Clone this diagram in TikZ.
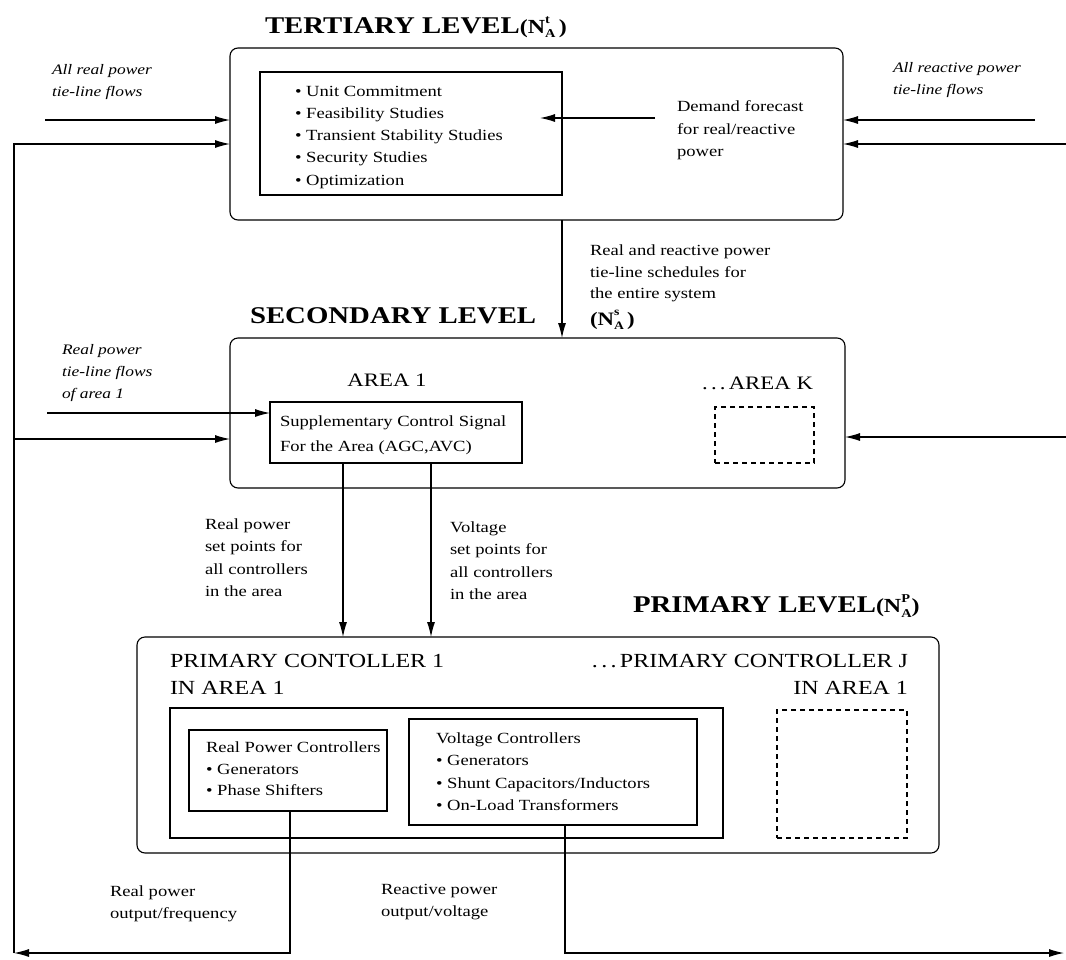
\documentclass[tikz,border=0pt]{standalone}
\usepackage{fontspec}
\setmainfont[FakeStretch=1.2]{Liberation Serif}
\usetikzlibrary{arrows.meta}
% N with stacked sub/superscript for level labels
\newcommand\Nlev[1]{N\rlap{\raisebox{0.5em}{\fontsize{0.6em}{0.6em}\selectfont #1}}\raisebox{-0.22em}{\fontsize{0.6em}{0.6em}\selectfont A}}

\begin{document}
\begin{tikzpicture}[x=1pt,y=-1pt,
  every node/.style={inner sep=0pt, outer sep=0pt},
  level/.style={draw, rounded corners=8pt, line width=1.1pt, anchor=north west},
  box/.style={draw, line width=1.1pt, anchor=north west},
  dashbox/.style={draw, line width=1.1pt, anchor=north west, dash pattern=on 5pt off 4pt},
  body/.style={font=\fontsize{15.5}{22.2}\selectfont, align=left, anchor=north west},
  lbl/.style={font=\itshape\fontsize{14.5}{22}\selectfont, align=left, anchor=north west},
  ttl/.style={font=\bfseries\fontsize{24}{28}\selectfont, anchor=west},
  head/.style={font=\fontsize{20}{27}\selectfont},
  flow/.style={line width=1.1pt, -{Latex[length=15pt,width=8pt]}},
]
\useasboundingbox (0,0) rectangle (1066,959);

% ---------------- tertiary level ----------------
\node[ttl] (tTitle) at (265,27) {TERTIARY LEVEL{\fontsize{20}{24}\selectfont(\Nlev{t}\,)}};
\node[level, minimum width=613pt, minimum height=172pt] (tert) at (230,48) {};
\node[box, minimum width=302pt, minimum height=123pt] (tasks) at (260,72) {};
\node[body] (taskList) at (295,86) {\textbullet\ Unit Commitment\\\textbullet\ Feasibility Studies\\\textbullet\ Transient Stability Studies\\\textbullet\ Security Studies\\\textbullet\ Optimization};
\node[body] (demand) at (677,101) {Demand forecast\\for real/reactive\\power};
\draw[flow] ([shift={(-22,17)}]demand.north west) -- ([shift={(-22,17)}]demand.north west -| tasks.east);

\node[lbl] (allReal) at (52,64) {All real power\\tie-line flows};
\node[lbl] (allReac) at (893,62) {All reactive power\\tie-line flows};

\coordinate (tIn1) at ([yshift=-72pt]tert.north west);
\coordinate (tIn2) at ([yshift=-96pt]tert.north west);
\coordinate (tIn3) at ([yshift=-72pt]tert.north east);
\coordinate (tIn4) at ([yshift=-96pt]tert.north east);
\coordinate (rinL) at (45,120);
\coordinate (rinR) at (1035,120);
\coordinate (fbR) at (1066,144);
\coordinate (fbL) at (14,953);
\draw[flow] (rinL) -- (tIn1);
\draw[flow] (fbL) |- (tIn2);
\draw[flow] (rinR) -- (tIn3);
\draw[flow] (fbR) -- (tIn4);

% ---------------- secondary level ----------------
\node[ttl] (sTitle) at (250,316) {SECONDARY LEVEL};
\node[anchor=west, font=\bfseries\fontsize{19}{22}\selectfont] (sTag) at (590,320) {(\Nlev{s}\,)};
\node[level, minimum width=615pt, minimum height=150pt] (sec) at (230,338) {};
\draw[flow] (tert.south -| tasks.east) -- (sec.north -| tasks.east);
\node[body, font=\fontsize{15.5}{21.5}\selectfont] (sched) at (590,245) {Real and reactive power\\tie-line schedules for\\the entire system};

\node[head, font=\fontsize{19}{24}\selectfont] (area1) at (387,380) {AREA 1};
\node[head, font=\fontsize{19}{24}\selectfont, anchor=east] (areaK) at (813,383) {.\,.\,.\,AREA K};
\node[box, minimum width=252pt, minimum height=61pt] (supp) at (270,402) {};
\node[body, font=\fontsize{15.5}{25}\selectfont] (suppText) at (280,416) {Supplementary Control Signal\\For the Area (AGC,AVC)};
\node[dashbox, minimum width=99pt, minimum height=56pt] (areaKbox) at (715,407) {};

\node[lbl] (areaFlows) at (62,344) {Real power\\tie-line flows\\of area 1};
\coordinate (aIn) at (47,413);
\draw[flow] (aIn) -- (aIn -| supp.west);
\coordinate (sIn) at ([yshift=-101pt]sec.north west);
\draw[flow] (sIn -| fbL) -- (sIn);
\coordinate (fbR2) at (1066,437);
\draw[flow] (fbR2) -- (fbR2 -| sec.east);

% ---------------- primary level ----------------
\node[ttl] (pTitle) at (633,606) {PRIMARY LEVEL{\fontsize{20}{24}\selectfont(\Nlev{P})}};
\node[level, minimum width=802pt, minimum height=216pt] (prim) at (137,637) {};

\coordinate (d1) at ([xshift=73pt]supp.south west);
\coordinate (d2) at ([xshift=161pt]supp.south west);
\draw[flow] (d1) -- (d1 |- prim.north);
\draw[flow] (d2) -- (d2 |- prim.north);
\node[body] (rpSet) at (205,519) {Real power\\set points for\\all controllers\\in the area};
\node[body] (vSet) at (450,522) {Voltage\\set points for\\all controllers\\in the area};

\node[head, align=left, anchor=north west] (pc1) at (170,654) {PRIMARY CONTOLLER 1\\IN AREA 1};
\node[head, align=right, anchor=north east] (pcJ) at (908,654) {.\,.\,.\,PRIMARY CONTROLLER J\\IN AREA 1};

\node[box, minimum width=553pt, minimum height=130pt] (ctrl) at (170,708) {};
\node[box, minimum width=198pt, minimum height=81pt] (rpc) at (189,730) {};
\node[body, font=\fontsize{15.5}{21.5}\selectfont] (rpcText) at (206,742) {Real Power Controllers\\\textbullet\ Generators\\\textbullet\ Phase Shifters};
\node[box, minimum width=288pt, minimum height=106pt] (vc) at (409,719) {};
\node[body] (vcText) at (436,733) {Voltage Controllers\\\textbullet\ Generators\\\textbullet\ Shunt Capacitors/Inductors\\\textbullet\ On-Load Transformers};
\node[dashbox, minimum width=130pt, minimum height=128pt] (pcJbox) at (777,710) {};

% ---------------- outputs fed back ----------------
\coordinate (o1) at ([xshift=101pt]rpc.south west);
\coordinate (o2) at ([xshift=156pt]vc.south west);
\coordinate (outR) at (1064,953);
\draw[flow] (o1) |- (fbL);
\draw[flow] (o2) |- (outR);
\node[body] (rpOut) at (110,886) {Real power\\output/frequency};
\node[body] (rqOut) at (381,884) {Reactive power\\output/voltage};
\end{tikzpicture}
\end{document}
